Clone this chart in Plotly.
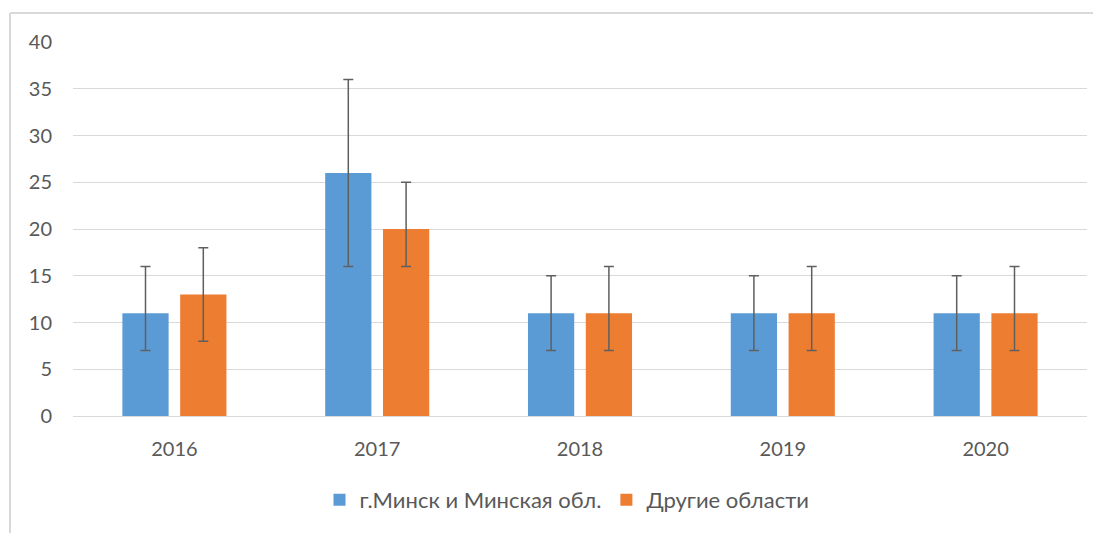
import plotly.graph_objects as go

years = ["2016", "2017", "2018", "2019", "2020"]
minsk_values = [11, 26, 11, 11, 11]
minsk_low = [7, 16, 7, 7, 7]
minsk_high = [16, 36, 15, 15, 15]
other_values = [13, 20, 11, 11, 11]
other_low = [8, 16, 7, 7, 7]
other_high = [18, 25, 16, 16, 16]
series_names = ["г.Минск и Минская обл.", "Другие области"]

# the page body adds an 8px offset; margins compensate for it
W, H = 1101, 533
ml, mt = 65, 34
pw, ph = 1014, 374
mr, mb = W - ml - pw, H - mt - ph

def err(vals, lo, hi):
    return dict(type="data", symmetric=False,
                array=[h - v for v, h in zip(vals, hi)],
                arrayminus=[v - l for v, l in zip(vals, lo)],
                color="#5f5f5f", thickness=1.5, width=5)

fig = go.Figure()
fig.add_trace(go.Bar(x=years, y=minsk_values, name=series_names[0],
                     marker=dict(color="#5B9BD5", line=dict(width=0)),
                     error_y=err(minsk_values, minsk_low, minsk_high)))
fig.add_trace(go.Bar(x=years, y=other_values, name=series_names[1],
                     marker=dict(color="#ED7D31", line=dict(width=0)),
                     error_y=err(other_values, other_low, other_high)))

font_family = "Lato, 'Open Sans', sans-serif"
fig.update_layout(
    width=W, height=H,
    margin=dict(l=ml, r=mr, t=mt, b=mb, pad=0, autoexpand=False),
    paper_bgcolor="white", plot_bgcolor="white",
    barmode="group", bargap=0.43, bargroupgap=0.2,
    font=dict(family=font_family, size=20, color="#595959"),
    showlegend=True,
    legend=dict(orientation="h", x=(567 - 8 - ml) / pw, xanchor="center", y=-0.2246,
                yanchor="middle", font=dict(size=22, color="#595959"), itemwidth=30,
                traceorder="normal"),
    xaxis=dict(showgrid=False, showline=False, ticks="", tickfont=dict(size=20),
               ticklabelstandoff=19),
    yaxis=dict(range=[0, 40], dtick=5, showgrid=True, gridcolor="#d9d9d9", gridwidth=1.3,
               zeroline=True, zerolinecolor="#d9d9d9", zerolinewidth=1.3,
               showline=False, ticks="", tickfont=dict(size=20), ticklabelstandoff=20),
    shapes=[
        dict(type="line", xref="paper", yref="paper",
             x0=(2 - ml) / pw, x1=(W + 5 - ml) / pw,
             y0=1 + (mt - 5) / ph, y1=1 + (mt - 5) / ph,
             line=dict(color="#d9d9d9", width=2)),
        dict(type="line", xref="paper", yref="paper",
             x0=(2 - ml) / pw, x1=(2 - ml) / pw,
             y0=1 + (mt - 5) / ph, y1=-(H + 5 - mt - ph) / ph,
             line=dict(color="#d9d9d9", width=2)),
    ],
)

fig.write_html("out.html")
